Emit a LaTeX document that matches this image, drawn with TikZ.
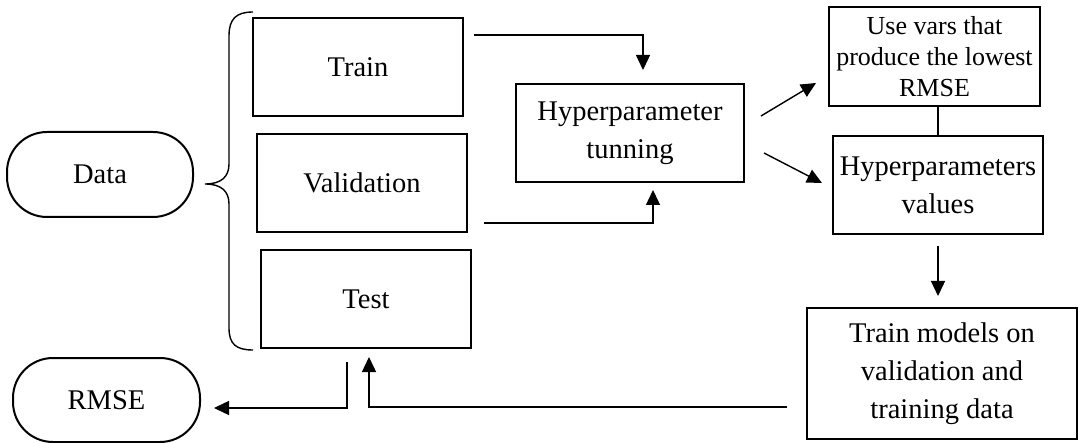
\documentclass[tikz,border=0pt]{standalone}
\usepackage{fontspec}
\setmainfont{Liberation Serif}
\usetikzlibrary{arrows.meta}
\begin{document}
\begin{tikzpicture}[x=1pt,y=-1pt,
  box/.style={draw, line width=2pt, inner sep=0pt, align=center,
    font=\fontsize{28.5pt}{38pt}\selectfont},
  pill/.style={box, rounded corners=40pt},
  arr/.style={line width=1.4pt, -{Triangle[length=15pt,width=14pt]}},
  ln/.style={line width=1.4pt}]
\useasboundingbox (0,0) rectangle (1078,443);
\node[pill, minimum width=186pt, minimum height=85pt] (data) at (100,174.5) {Data};
\node[pill, minimum width=187pt, minimum height=84pt] (rmse) at (106.5,400) {RMSE};
\node[box, minimum width=210pt, minimum height=98pt] (train) at (358,67) {Train};
\node[box, minimum width=210pt, minimum height=98pt] (valid) at (362,183) {Validation};
\node[box, minimum width=210pt, minimum height=98pt] (test) at (366,299) {Test};
\node[box, minimum width=228pt, minimum height=98pt] (hyper) at (630,133) {Hyperparameter\\tunning};
\node[box, minimum width=211pt, minimum height=99pt, font=\fontsize{26pt}{31pt}\selectfont] (use) at (934.5,56.5) {Use vars that\\produce the lowest\\RMSE};
\node[box, minimum width=210pt, minimum height=98pt] (hval) at (938,185) {Hyperparameters\\values};
\node[box, minimum width=270pt, minimum height=131pt] (tm) at (942,373.5) {Train models on\\validation and\\training data};
% brace
\draw[line width=1.4pt] (253,12) .. controls (236,12) and (229,19) .. (229,36) -- (229,164)
  .. controls (229,177) and (221,184) .. (205,184)
  .. controls (221,184) and (229,191) .. (229,204) -- (229,328)
  .. controls (229,344) and (236,350) .. (253,350);
% connectors
\draw[arr] ([xshift=10pt,yshift=32pt]train.east) -| ([xshift=13pt,yshift=13pt]hyper.north);
\draw[arr] ([xshift=16pt,yshift=-40pt]valid.east) -| ([xshift=23pt,yshift=-7pt]hyper.south);
\draw[arr] ([xshift=16pt,yshift=17pt]hyper.east) -- ([xshift=-12pt,yshift=-26.5pt]use.west);
\draw[arr] ([xshift=19pt,yshift=-20pt]hyper.east) -- ([xshift=-10pt,yshift=2pt]hval.west);
\draw[ln] (hval.north) -- (hval.north |- use.south);
\draw[arr] ([yshift=-11pt]hval.south) -- ++(0,50);
\draw[arr] ([xshift=-19pt,yshift=-33.5pt]tm.west) -| ([xshift=3pt,yshift=-8pt]test.south);
\draw[arr] ([xshift=-19pt,yshift=-13pt]test.south) |- ([xshift=13pt,yshift=-8pt]rmse.east);
\end{tikzpicture}
\end{document}
